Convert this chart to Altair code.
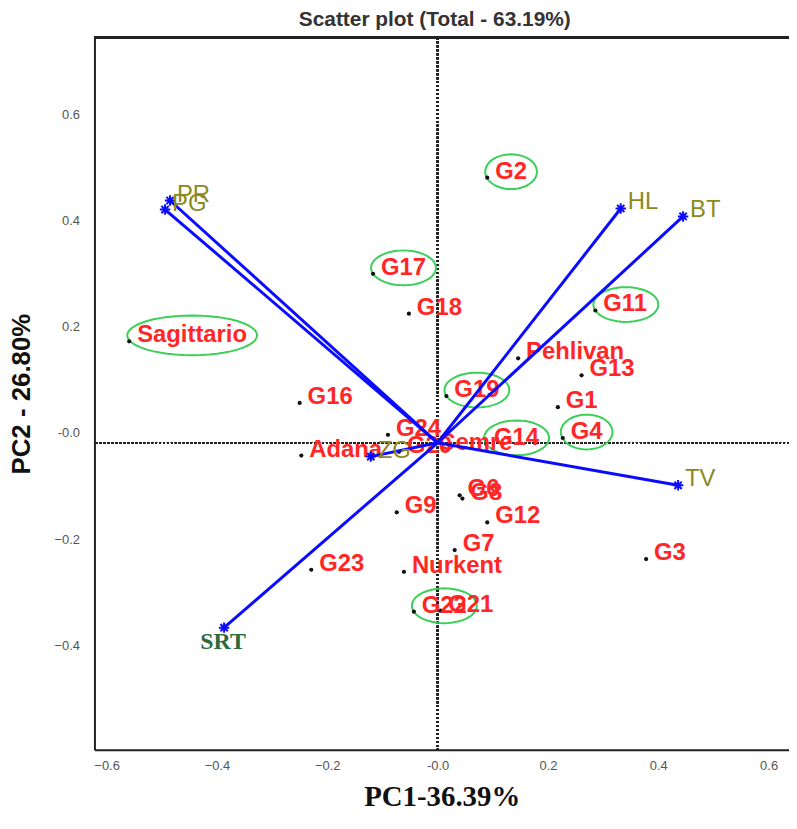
import math
import altair as alt
import pandas as pd

# ---------------- data ----------------
genotypes = ["G2", "G17", "G18", "Sagittario", "G11", "Pehlivan", "G13", "G16", "G19", "G1",
             "G24", "G14", "G4", "Adana", "G20", "Cemre", "G6", "G8", "G9", "G12",
             "G7", "Nurkent", "G23", "G3", "G22", "G21"]
geno_pc1 = [0.090, -0.117, -0.052, -0.559, 0.286, 0.146, 0.261, -0.250, 0.016, 0.218,
            -0.090, 0.088, 0.227, -0.247, -0.070, -0.013, 0.040, 0.045, -0.074, 0.090,
            0.031, -0.061, -0.229, 0.378, -0.043, 0.005]
geno_pc2 = [0.499, 0.318, 0.243, 0.191, 0.249, 0.159, 0.127, 0.075, 0.088, 0.067,
            0.015, -0.002, 0.009, -0.024, -0.017, -0.011, -0.099, -0.105, -0.131, -0.150,
            -0.202, -0.243, -0.239, -0.219, -0.318, -0.316]
circled = ["G2", "G17", "Sagittario", "G11", "G19", "G14", "G4", "G22"]

traits = ["PR", "PG", "HL", "BT", "TV", "SRT", "ZG"]
trait_pc1 = [-0.485, -0.494, 0.332, 0.445, 0.436, -0.387, -0.121]
trait_pc2 = [0.456, 0.439, 0.441, 0.426, -0.080, -0.348, -0.026]

x_ticks = [-0.6, -0.4, -0.2, 0.0, 0.2, 0.4, 0.6]
y_ticks = [-0.4, -0.2, 0.0, 0.2, 0.4, 0.6]

# ---------------- layout / style ----------------
W, H = 699, 717
XDOM = [-0.622, 0.637]
YDOM = [-0.578, 0.763]
px_x = W / (XDOM[1] - XDOM[0])
px_y = H / (YDOM[1] - YDOM[0])
LABEL_SIZE = 24
LABEL_DX, LABEL_DY = 8, -6

# approximate Arial-bold advance widths (em) for the ellipse sizing
_w = {"G": .778, "S": .667, "a": .556, "g": .611, "i": .278, "t": .333, "r": .389, "o": .611}
def text_w(s):
    return sum(_w.get(c, .556) for c in s) * LABEL_SIZE

def ellipse_path(aspect, n=48):
    pts = []
    for k in range(n):
        a = 2 * math.pi * k / n
        pts.append(f"{math.cos(a):.4f},{aspect * math.sin(a):.4f}")
    return "M" + "L".join(pts) + "Z"

geno = pd.DataFrame({"name": genotypes, "pc1": geno_pc1, "pc2": geno_pc2})
vec = pd.DataFrame({"name": traits, "pc1": trait_pc1, "pc2": trait_pc2})
vec["x0"] = 0.0
vec["y0"] = 0.0

ell_rows = []
for n in circled:
    r = geno[geno.name == n].iloc[0]
    tw = text_w(n)
    ew = tw + 20
    eh = 40 if len(n) > 5 else 35
    ell_rows.append({
        "name": n,
        "cx": r.pc1 + (LABEL_DX + tw / 2) / px_x,
        "cy": r.pc2 - LABEL_DY / px_y,
        "shape": ellipse_path(eh / ew),
        "size": ew * ew,
    })
ell = pd.DataFrame(ell_rows)

xs = alt.Scale(domain=XDOM, nice=False, zero=False)
ys = alt.Scale(domain=YDOM, nice=False, zero=False)

x_axis = alt.Axis(values=x_ticks, labelExpr="datum.value == 0 ? '-0.0' : format(datum.value, '.1f')",
                  ticks=False, grid=False, domainColor="#222", domainWidth=2,
                  labelColor="#555", labelFontSize=13, labelFont="Liberation Sans", labelPadding=10,
                  title="PC1-36.39%", titleFont="Liberation Serif", titleFontSize=29,
                  titleFontWeight="bold", titleColor="#111", titlePadding=10)
y_axis = alt.Axis(values=y_ticks, labelExpr="datum.value == 0 ? '-0.0' : format(datum.value, '.1f')",
                  ticks=False, grid=False, domainColor="#222", domainWidth=2,
                  labelColor="#555", labelFontSize=13, labelFont="Liberation Sans", labelPadding=15,
                  labelOffset=-10,
                  title="PC2 - 26.80%", titleFont="Liberation Sans", titleFontSize=26,
                  titleFontWeight="bold", titleColor="#111", titlePadding=20)

X = lambda f: alt.X(f, type="quantitative", scale=xs, axis=x_axis)
Y = lambda f: alt.Y(f, type="quantitative", scale=ys, axis=y_axis)

base_g = alt.Chart(geno)
base_v = alt.Chart(vec)

top_frame = alt.Chart(geno).mark_rule(color="#222", strokeWidth=2).encode(
    x=alt.value(0), x2=alt.value(W), y=alt.value(0))

zero_h = alt.Chart(geno).mark_rule(color="#222", strokeDash=[2, 2], strokeWidth=1.5).encode(
    y=alt.datum(0, type="quantitative", scale=ys, axis=y_axis))
zero_v = alt.Chart(geno).mark_rule(color="#222", strokeDash=[2, 2], strokeWidth=1.5).encode(
    x=alt.datum(0, type="quantitative", scale=xs, axis=x_axis))

ellipses = alt.Chart(ell).mark_point(filled=False, stroke="#3ccf5a", strokeWidth=2, opacity=1).encode(
    x=X("cx"), y=Y("cy"),
    shape=alt.Shape("shape:N", scale=None),
    size=alt.Size("size:Q", scale=None))

dots = base_g.mark_circle(size=18, color="#111", opacity=1).encode(x=X("pc1"), y=Y("pc2"))

glabels = base_g.mark_text(align="left", baseline="middle", dx=LABEL_DX, dy=LABEL_DY,
                           font="Liberation Sans", fontSize=LABEL_SIZE, fontWeight="bold",
                           color="#ff2626").encode(x=X("pc1"), y=Y("pc2"), text="name:N")

vectors = base_v.mark_rule(color="#0a0aff", strokeWidth=3).encode(
    x=X("x0"), y=Y("y0"), x2="pc1:Q", y2="pc2:Q")

star = "M-1,0L1,0M0,-1L0,1M-0.7,-0.7L0.7,0.7M-0.7,0.7L0.7,-0.7"
stars = base_v.mark_point(shape=star, filled=False, stroke="#0a0aff", strokeWidth=2, size=110,
                          opacity=1).encode(x=X("pc1"), y=Y("pc2"))

vlabels = base_v.transform_filter("datum.name != 'SRT'").mark_text(
    align="left", baseline="middle", dx=7, dy=-6, font="Liberation Sans", fontSize=24,
    color="#8a8a1c").encode(x=X("pc1"), y=Y("pc2"), text="name:N")

srt_label = base_v.transform_filter("datum.name == 'SRT'").mark_text(
    align="center", baseline="middle", dx=-1, dy=14, font="Liberation Serif", fontSize=24,
    fontWeight="bold", color="#2e6b3c").encode(x=X("pc1"), y=Y("pc2"), text="name:N")

chart = alt.layer(
    zero_h, zero_v, ellipses, dots, glabels, vectors, stars, vlabels, srt_label, top_frame
).properties(
    width=W, height=H,
    title=alt.TitleParams("Scatter plot (Total - 63.19%)", font="Liberation Sans", fontSize=21,
                          fontWeight="bold", color="#333", anchor="middle", offset=6, dx=-7),
    autosize=alt.AutoSizeParams(type="none"),
    padding={"left": 87, "top": 27, "right": 0, "bottom": 68},
).configure_view(stroke=None).configure(background="white")

chart.save("out.html", embed_options={"renderer": "svg", "actions": False})
